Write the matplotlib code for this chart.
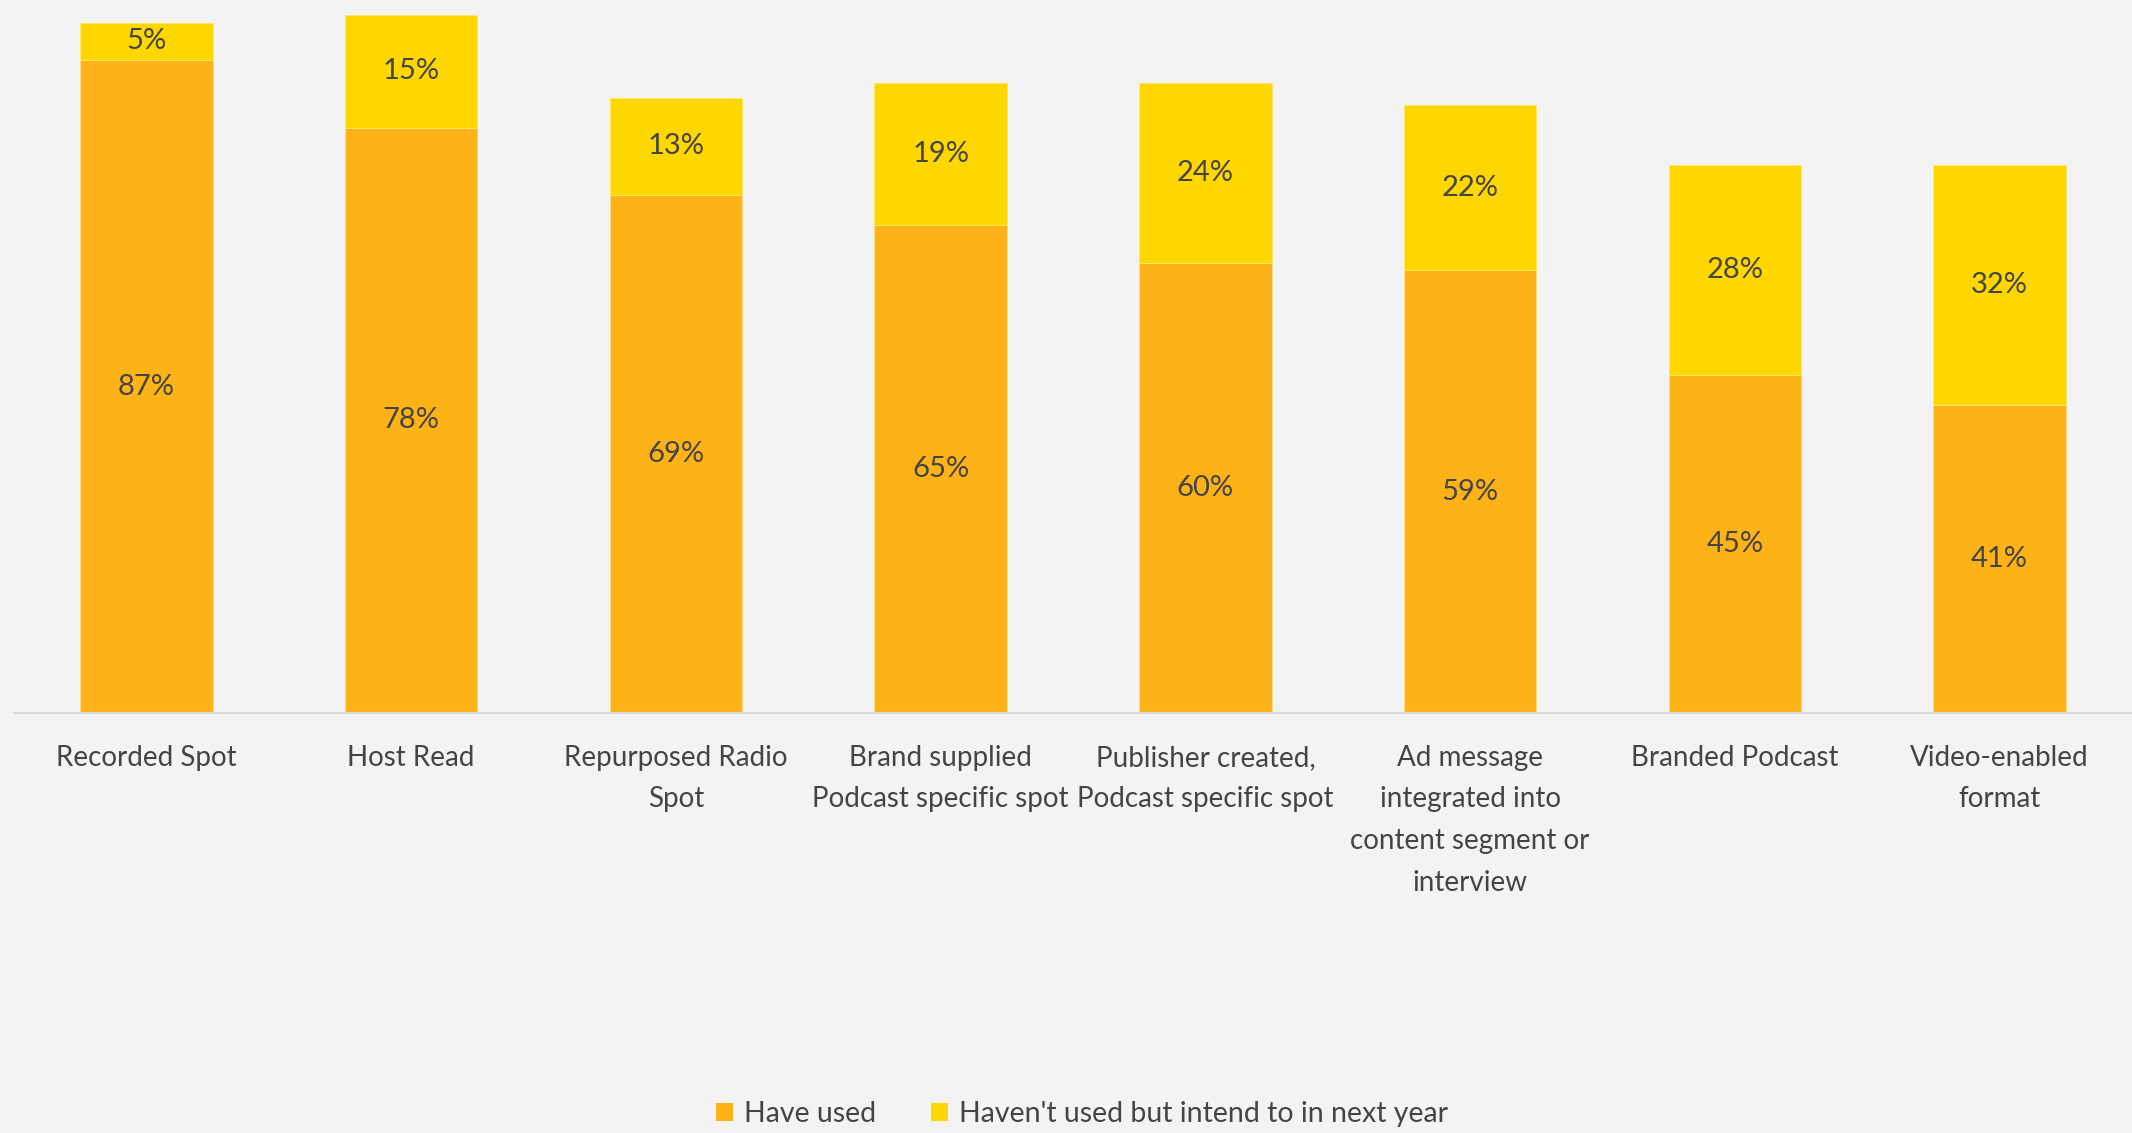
import matplotlib
matplotlib.use("Agg")
import matplotlib.pyplot as plt
from matplotlib.patches import Patch

categories = [
    "Recorded Spot",
    "Host Read",
    "Repurposed Radio\nSpot",
    "Brand supplied\nPodcast specific spot",
    "Publisher created,\nPodcast specific spot",
    "Ad message\nintegrated into\ncontent segment or\ninterview",
    "Branded Podcast",
    "Video-enabled\nformat",
]
have_used = [87, 78, 69, 65, 60, 59, 45, 41]
intend_to = [5, 15, 13, 19, 24, 22, 28, 32]
series_names = ["Have used", "Haven't used but intend to in next year"]

BG = "#F3F3F3"
ORANGE = "#FDB218"
YELLOW = "#FED700"
TEXT = "#444444"
FONT = ["Lato", "DejaVu Sans"]

plt.rcParams["font.family"] = FONT

fig = plt.figure(figsize=(21.32, 11.33), dpi=100, facecolor=BG)
ax = fig.add_axes([0.0066, 0.3707, 0.9934, 0.6293])
ax.set_facecolor(BG)

x = list(range(len(categories)))
width = 0.5
ax.bar(x, have_used, width, color=ORANGE, edgecolor="#FFE08A", linewidth=0.6)
ax.bar(x, intend_to, width, bottom=have_used, color=YELLOW, edgecolor="#FFE866", linewidth=0.6)

for xi, h, t in zip(x, have_used, intend_to):
    ax.text(xi, h / 2, f"{h}%", ha="center", va="center", fontsize=21, color=TEXT)
    ax.text(xi, h + t / 2, f"{t}%", ha="center", va="center", fontsize=21, color=TEXT)

ax.set_xlim(-0.5, 7.5)
ax.set_ylim(0, 95)
ax.set_yticks([])
for s in ["top", "right", "left"]:
    ax.spines[s].set_visible(False)
ax.spines["bottom"].set_color("#D9D9D9")
ax.spines["bottom"].set_linewidth(1.5)

ax.set_xticks(x)
ax.set_xticklabels(categories, fontsize=20, color=TEXT, linespacing=1.74)
ax.tick_params(axis="x", length=0, pad=23)

handles = [Patch(facecolor=ORANGE), Patch(facecolor=YELLOW)]
fig.legend(handles, series_names, loc="center", bbox_to_anchor=(0.5075, 0.017),
           ncol=2, frameon=False, fontsize=20.5, labelcolor=TEXT,
           handlelength=0.6, handleheight=0.6, handletextpad=0.4,
           columnspacing=1.9)

fig.savefig("out.png", dpi=100, facecolor=BG)
